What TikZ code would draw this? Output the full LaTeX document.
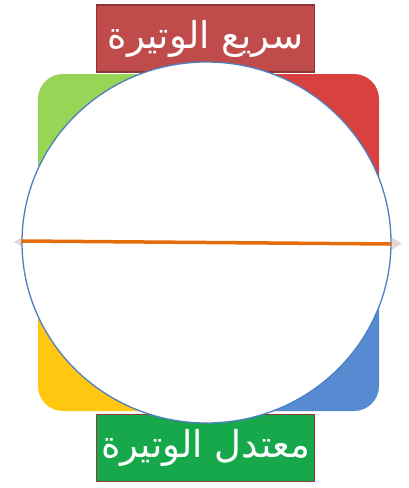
\documentclass[tikz,border=0pt]{standalone}
\usepackage{fontspec}
\usetikzlibrary{shapes.geometric,calc}
\TeXXeTstate=1
\newfontfamily\arabicfont[Script=Arabic]{DejaVu Sans}
\definecolor{qgreen}{HTML}{98D455}
\definecolor{qred}{HTML}{D9413E}
\definecolor{qyellow}{HTML}{FFC70F}
\definecolor{qblue}{HTML}{568BD2}
\definecolor{topfill}{HTML}{BF4C4A}
\definecolor{topline}{HTML}{8C3534}
\definecolor{botfill}{HTML}{16A84A}
\definecolor{botline}{HTML}{8F3A36}
\definecolor{ringblue}{HTML}{4F7FC0}
\definecolor{axisorange}{HTML}{E46C0A}
\definecolor{tipgray}{HTML}{E3D6D6}
\tikzset{
  labelbox/.style={rectangle, minimum width=218pt, minimum height=67pt, line width=1.2pt, text=white, inner sep=0pt, font=\fontsize{37}{40}\arabicfont},
}
\begin{document}
\begin{tikzpicture}[x=1pt,y=-1pt]
\useasboundingbox (0,0) rectangle (408,488);
% quadrants of the rounded square
\coordinate (c) at (208.5,242.5);
\fill[qgreen, rounded corners=25pt] (c) -- (38,242.5) -- (38,74) -- (208.5,74) [sharp corners] -- cycle;
\fill[qred, rounded corners=25pt] (c) -- (208.5,74) -- (379,74) -- (379,242.5) [sharp corners] -- cycle;
\fill[qyellow, rounded corners=25pt] (c) -- (38,242.5) -- (38,411) -- (208.5,411) [sharp corners] -- cycle;
\fill[qblue, rounded corners=25pt] (c) -- (379,242.5) -- (379,411) -- (208.5,411) [sharp corners] -- cycle;
% label boxes
\node[labelbox, fill=topfill, draw=topline] (fast) at (205.5,38.5) {\beginR سريع الوتيرة\endR};
\node[labelbox, fill=botfill, draw=botline] (moderate) at (205.5,448) {\beginR معتدل الوتيرة\endR};
% grey arrow tips behind the circle
\coordinate (ltip) at (14,242);
\coordinate (rtip) at (402,243.5);
\fill[tipgray] (ltip) -- ++(10,-6) -- ++(0,12) -- cycle;
\fill[tipgray] (rtip) -- ++(-10,-6) -- ++(0,12) -- cycle;
% circle
\node[ellipse, draw=ringblue, line width=1.3pt, fill=white, minimum width=369pt, minimum height=361pt, inner sep=0pt] (circ) at (206.5,242.5) {};
% orange axis
\coordinate (la) at ($(circ.west)+(0,-1.5)$);
\coordinate (ra) at ($(circ.east)+(0,1.5)$);
\draw[axisorange, line width=3.5pt] (la) -- (ra);
\end{tikzpicture}
\end{document}
